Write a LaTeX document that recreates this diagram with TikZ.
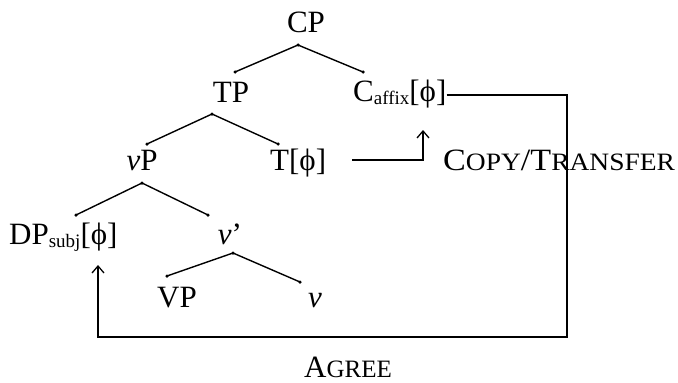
\documentclass[tikz,border=0pt]{standalone}
\usepackage{fontspec}
\setmainfont{Liberation Serif}
\usetikzlibrary{arrows.meta}
\newcommand{\phisym}{ϕ}
\newcommand{\subtxt}[1]{\raisebox{-3pt}{\fontsize{19}{19}\selectfont #1}}
\newcommand{\smc}[1]{{\fontsize{25}{25}\selectfont #1}}
\begin{document}
\begin{tikzpicture}[x=1pt,y=-1pt,
  lbl/.style={inner sep=0pt,font=\fontsize{31}{33}\selectfont},
  branch/.style={line width=1.4pt},
  conn/.style={line width=1.3pt},
  dot/.style={circle,fill=black,inner sep=0pt,minimum size=3.5pt}]
\useasboundingbox (0,0) rectangle (678,383);
% labels
\node[lbl,anchor=base] (CP) at (306,32) {CP};
\node[lbl,anchor=base] (TP) at (231,102) {TP};
\node[lbl,anchor=base west] (C) at (353,101) {C\subtxt{affix}[\phisym]};
\node[lbl,anchor=base] (vP) at (142,170) {\textit{v}P};
\node[lbl,anchor=base west] (T) at (270,170) {T[\phisym]};
\node[lbl,anchor=base west] (DP) at (9,244) {DP\subtxt{subj}[\phisym]};
\node[lbl,anchor=base] (vbar) at (230,244) {\textit{v}’};
\node[lbl,anchor=base] (VP) at (177,307) {VP};
\node[lbl,anchor=base] (v) at (315,307) {\textit{v}};
\node[lbl,anchor=base west] (copy) at (443,170) {\scalebox{1.1}[1]{C\smc{OPY}/T\smc{RANSFER}}};
\node[lbl,anchor=base] (agree) at (348,377) {A\smc{GREE}};
% branch points
\coordinate (cpA) at (298,45);
\coordinate (cpL) at (235,72);
\coordinate (cpR) at (363,72);
\coordinate (tpA) at (212,114);
\coordinate (tpL) at (147,144);
\coordinate (tpR) at (278,144);
\coordinate (vpA) at (142,183);
\coordinate (vpL) at (76,215);
\coordinate (vpR) at (208,215);
\coordinate (vbA) at (233,253);
\coordinate (vbL) at (167,276);
\coordinate (vbR) at (300,282);
\foreach \a/\l/\r in {cpA/cpL/cpR,tpA/tpL/tpR,vpA/vpL/vpR,vbA/vbL/vbR}{
  \draw[branch] (\l) -- (\a) -- (\r);
  \node[dot] at (\l) {};
  \node[dot] at (\r) {};
  \node[dot] at (\a) {};
}
% arrows
\coordinate (agTR) at (567,95);
\coordinate (agBR) at (567,337);
\coordinate (agBL) at (98,337);
\coordinate (agTip) at (98,265);
\draw[conn,-{Straight Barb[length=7pt,width=12pt,line width=1.3pt]}]
  (C.east |- agTR) -- (agTR) -- (agBR) -- (agBL) -- (agTip);
\coordinate (cpS) at (352,160);
\coordinate (cpC) at (423,160);
\coordinate (cpTip) at (423,130);
\draw[conn,-{Straight Barb[length=7pt,width=12pt,line width=1.3pt]}]
  (cpS) -- (cpC) -- (cpTip);
\end{tikzpicture}
\end{document}
